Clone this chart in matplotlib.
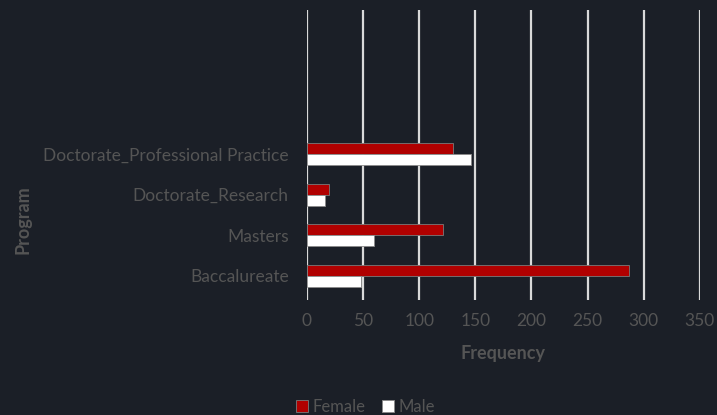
import numpy as np
import matplotlib.pyplot as plt

# ------------------------------------------
# data
# ------------------------------------------
programs = ["Baccalureate", "Masters", "Doctorate_Research", "Doctorate_Professional Practice"]
female = [287, 121, 20, 130]
male = [48, 60, 16, 146]

bg = "#1b1f27"
txt = "#555555"

plt.rcParams["font.family"] = ["Lato", "DejaVu Sans"]

fig = plt.figure(figsize=(7.17, 4.15), dpi=100, facecolor=bg)
ax = fig.add_axes([0.428, 0.277, 0.548, 0.699], facecolor=bg)

y = np.arange(len(programs))
h = 0.27

ax.barh(y + h / 2, female, height=h, color="#b00000", edgecolor="#7a7a7a",
        linewidth=0.6, label="Female", zorder=3)
ax.barh(y - h / 2, male, height=h, color="#ffffff", edgecolor="#8a8a8a",
        linewidth=0.6, label="Male", zorder=3)

ax.set_xlim(0, 350)
ax.set_xticks(np.arange(0, 351, 50))
ax.set_ylim(-0.6, 6.55)
ax.set_yticks(y)
ax.set_yticklabels(programs)

ax.grid(axis="x", color="#d9d9d9", linewidth=1.6, zorder=0)
ax.grid(axis="y", visible=False)
for s in ax.spines.values():
    s.set_visible(False)

ax.tick_params(axis="both", length=0, colors=txt, labelsize=12.5)
ax.tick_params(axis="x", pad=9)
ax.tick_params(axis="y", pad=13)

ax.set_xlabel("Frequency", color=txt, fontsize=13, fontweight="bold", labelpad=12)
ax.set_ylabel("Program", color=txt, fontsize=13, fontweight="bold", labelpad=0)
ax.yaxis.set_label_coords(-0.7, 0.276)

leg = fig.legend(loc="lower center", bbox_to_anchor=(0.51, -0.035), ncol=2,
                 frameon=False, fontsize=12, handlelength=0.7, handleheight=0.7,
                 handletextpad=0.3, columnspacing=1.0)
for t in leg.get_texts():
    t.set_color(txt)

fig.savefig("out.png", dpi=100, facecolor=bg)
